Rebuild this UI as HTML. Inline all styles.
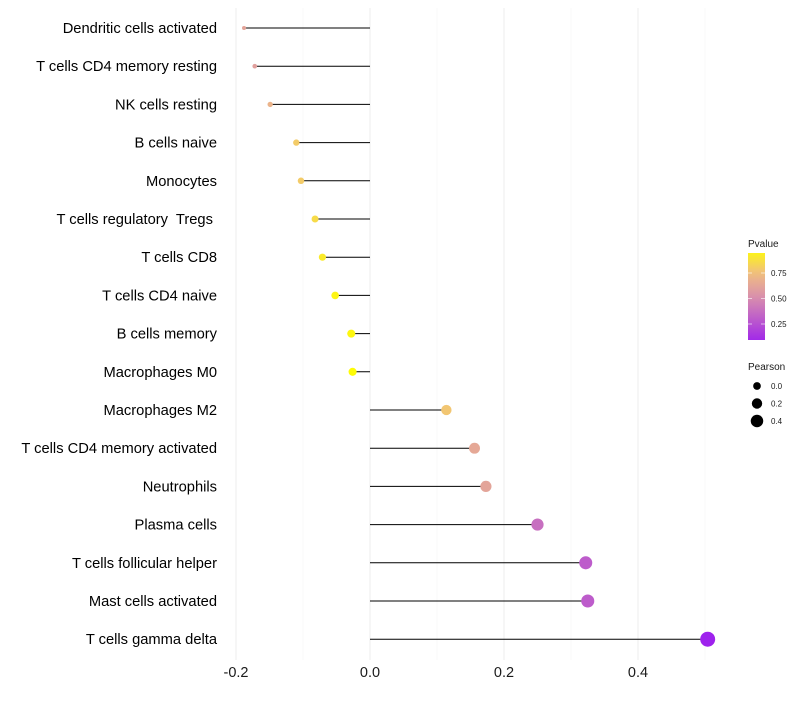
<!DOCTYPE html>
<html><head><meta charset="utf-8"><style>
body{margin:0;background:#fff;font-family:"Liberation Sans",sans-serif}
svg text{font-family:"Liberation Sans",sans-serif;white-space:pre}
</style></head><body>
<svg id="chart" width="800" height="700" xmlns="http://www.w3.org/2000/svg">
<g id="grid"></g>
<g id="marks"></g>
<g id="ylabels"></g>
<g id="xlabels"></g>
<g id="legend"></g>
</svg>
<script>
const categories=["Dendritic cells activated","T cells CD4 memory resting","NK cells resting","B cells naive","Monocytes","T cells regulatory  Tregs ","T cells CD8","T cells CD4 naive","B cells memory","Macrophages M0","Macrophages M2","T cells CD4 memory activated","Neutrophils","Plasma cells","T cells follicular helper","Mast cells activated","T cells gamma delta"];
const pearson=[-0.188,-0.172,-0.149,-0.110,-0.103,-0.082,-0.071,-0.052,-0.028,-0.026,0.114,0.156,0.173,0.250,0.322,0.325,0.504];
const pvalue=[0.62,0.60,0.70,0.80,0.80,0.86,0.92,0.96,0.97,0.99,0.78,0.64,0.62,0.38,0.30,0.30,0.06];
const xTicks=[-0.2,0,0.2,0.4];
const xTickLabels=["-0.2","0.0","0.2","0.4"];
const minorTicks=[-0.1,0.1,0.3,0.5];
const legendP=[0.75,0.50,0.25];
const legendSize=[0.0,0.2,0.4];

const NS="http://www.w3.org/2000/svg";
const X=v=>370+v*670;
const Y=i=>28+i*38.2;
const R=v=>Math.sqrt(Math.max(1,18.3+75*v));
function mix(a,b,t){return a.map((x,i)=>Math.round(x+(b[i]-x)*t));}
function col(p){
  const s=[[0,[150,20,245]],[0.5,[215,140,175]],[0.75,[240,190,130]],[1,[255,255,0]]];
  for(let i=0;i<s.length-1;i++){if(p<=s[i+1][0]){const t=(p-s[i][0])/(s[i+1][0]-s[i][0]);const c=mix(s[i][1],s[i+1][1],Math.max(0,t));return `rgb(${c})`;}}
  return "rgb(255,255,0)";
}
function el(tag,attrs,parent){const e=document.createElementNS(NS,tag);for(const k in attrs)e.setAttribute(k,attrs[k]);parent.appendChild(e);return e;}
const grid=document.getElementById('grid'),marks=document.getElementById('marks'),yl=document.getElementById('ylabels'),xl=document.getElementById('xlabels'),lg=document.getElementById('legend');
minorTicks.forEach(v=>{const l=el('line',{x1:X(v),x2:X(v),y1:8,y2:660,stroke:'#f4f4f4','stroke-width':0.6},grid);

});
xTicks.forEach((v,i)=>{const l=el('line',{x1:X(v),x2:X(v),y1:8,y2:660,stroke:'#eeeeee','stroke-width':1.1},grid);


const t=el('text',{x:X(v),y:677,'text-anchor':'middle','font-size':14.5,fill:'#1a1a1a'},xl);t.textContent=xTickLabels[i];

});
categories.forEach((c,i)=>{
  const y=Y(i);
  const t=el('text',{x:217,y:y+5,'text-anchor':'end','font-size':14.7,fill:'#000'},yl);t.textContent=c;
  
  
  const l=el('line',{x1:X(0),x2:X(pearson[i]),y1:y,y2:y,stroke:'#000','stroke-width':1},marks);
  
  
  const d=el('circle',{cx:X(pearson[i]),cy:y,r:R(pearson[i]),fill:col(pvalue[i])},marks);
  
  
});
const tt=el('text',{x:748,y:247,'font-size':10,fill:'#1a1a1a'},lg);tt.textContent="Pvalue";


const defs=el('defs',{},lg);const gr=el('linearGradient',{id:'pg',x1:0,y1:1,x2:0,y2:0},defs);
for(let k=0;k<=10;k++){const p=0.09+k*0.086;el('stop',{offset:k/10,'stop-color':col(p)},gr);}
const bar=el('rect',{x:748,y:253,width:17,height:87,fill:'url(#pg)'},lg);


const PY=p=>349.5-p*102;
legendP.forEach(p=>{el('line',{x1:748,x2:752,y1:PY(p),y2:PY(p),stroke:'#fff','stroke-width':0.6},lg);el('line',{x1:761,x2:765,y1:PY(p),y2:PY(p),stroke:'#fff','stroke-width':0.6},lg);
const t=el('text',{x:771,y:PY(p)+3,'font-size':8,fill:'#1a1a1a'},lg);t.textContent=p.toFixed(2);

});
const st=el('text',{x:748,y:370,'font-size':10,fill:'#1a1a1a'},lg);st.textContent="Pearson";


legendSize.forEach((v,i)=>{const y=386+i*17.5;const c=el('circle',{cx:757,cy:y,r:R(v)*0.9,fill:'#000'},lg);


const t=el('text',{x:771,y:y+3,'font-size':8,fill:'#1a1a1a'},lg);t.textContent=v.toFixed(1);

});
</script>
</body></html>
